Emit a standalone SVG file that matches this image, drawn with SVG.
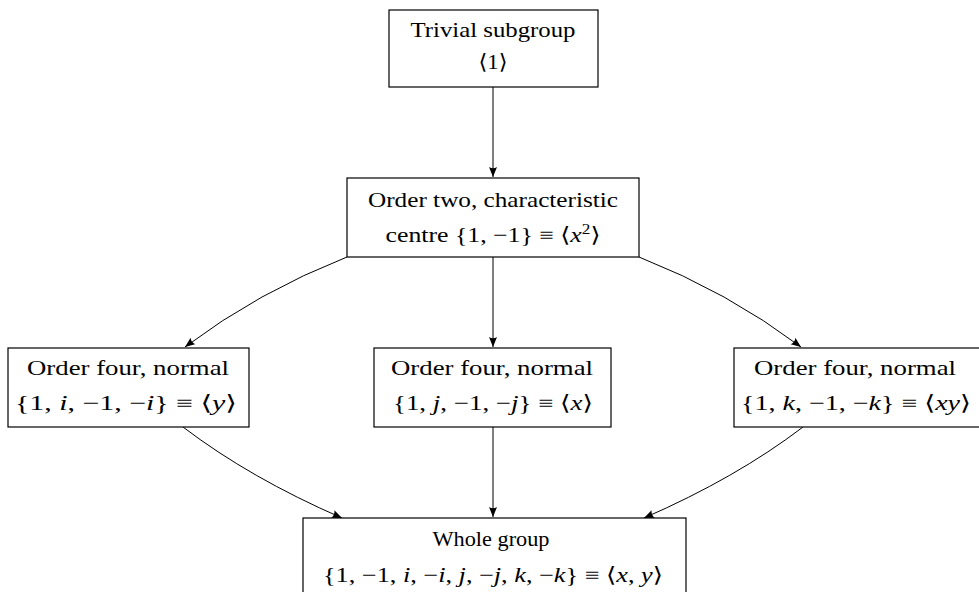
<svg xmlns="http://www.w3.org/2000/svg" width="979" height="592" viewBox="0 0 979 592">
<defs>
<marker id="ah" markerUnits="userSpaceOnUse" markerWidth="12" markerHeight="10" refX="10" refY="4" orient="auto">
<path d="M0,0 L10,4 L0,8 Q2.5,4 0,0 Z" fill="#000"/>
</marker>
<style>
.box{fill:#fff;stroke:#000;stroke-width:1.2}
text{font-family:"Liberation Serif","DejaVu Serif",serif;font-size:21px;fill:#000;text-anchor:middle}
.m{font-style:italic}
.s{font-size:14px}
.e{stroke:#000;stroke-width:1;fill:none;marker-end:url(#ah)}
</style>
</defs>
<rect width="979" height="592" fill="#fff"/>
<g id="connectors">
<path class="e" d="M493,87 L493,177"/>
<path class="e" d="M493,257 L493,347"/>
<path class="e" d="M347,257 Q258,292 185,347"/>
<path class="e" d="M639,257 Q728,292 801,347"/>
<path class="e" d="M183,427 Q250,478 342,518"/>
<path class="e" d="M803,427 Q736,478 644,518"/>
<path class="e" d="M493,427 L493,517"/>
</g>
<g id="trivial">
<rect class="box" x="389" y="10" width="209" height="77"/>
<text x="493" y="37" textLength="165" lengthAdjust="spacingAndGlyphs">Trivial subgroup</text>
<text x="493" y="69" textLength="29" lengthAdjust="spacingAndGlyphs">⟨1⟩</text>
</g>
<g id="centre">
<rect class="box" x="347" y="178" width="292" height="79"/>
<text x="493" y="207" textLength="250" lengthAdjust="spacingAndGlyphs">Order two, characteristic</text>
<text x="493" y="242" textLength="215" lengthAdjust="spacingAndGlyphs">centre {1, −1} ≡ ⟨<tspan class="m">x</tspan><tspan class="s" dy="-8">2</tspan><tspan dy="8">⟩</tspan></text>
</g>
<g id="four-i">
<rect class="box" x="8" y="348" width="241" height="79"/>
<text x="128" y="375" textLength="202" lengthAdjust="spacingAndGlyphs">Order four, normal</text>
<text x="126" y="410" textLength="222" lengthAdjust="spacingAndGlyphs">{1, <tspan class="m">i</tspan>, −1, −<tspan class="m">i</tspan>} ≡ ⟨<tspan class="m">y</tspan>⟩</text>
</g>
<g id="four-j">
<rect class="box" x="374" y="348" width="237" height="79"/>
<text x="492" y="375" textLength="202" lengthAdjust="spacingAndGlyphs">Order four, normal</text>
<text x="493" y="410" textLength="200" lengthAdjust="spacingAndGlyphs">{1, <tspan class="m">j</tspan>, −1, −<tspan class="m">j</tspan>} ≡ ⟨<tspan class="m">x</tspan>⟩</text>
</g>
<g id="four-k">
<rect class="box" x="734" y="348" width="250" height="79"/>
<text x="855" y="375" textLength="202" lengthAdjust="spacingAndGlyphs">Order four, normal</text>
<text x="856" y="410" textLength="230" lengthAdjust="spacingAndGlyphs">{1, <tspan class="m">k</tspan>, −1, −<tspan class="m">k</tspan>} ≡ ⟨<tspan class="m">xy</tspan>⟩</text>
</g>
<g id="whole">
<rect class="box" x="303" y="518" width="383" height="90"/>
<text x="491" y="546" textLength="117" lengthAdjust="spacingAndGlyphs">Whole group</text>
<text x="493" y="582" textLength="340" lengthAdjust="spacingAndGlyphs">{1, −1, <tspan class="m">i</tspan>, −<tspan class="m">i</tspan>, <tspan class="m">j</tspan>, −<tspan class="m">j</tspan>, <tspan class="m">k</tspan>, −<tspan class="m">k</tspan>} ≡ ⟨<tspan class="m">x</tspan>, <tspan class="m">y</tspan>⟩</text>
</g>
</svg>
